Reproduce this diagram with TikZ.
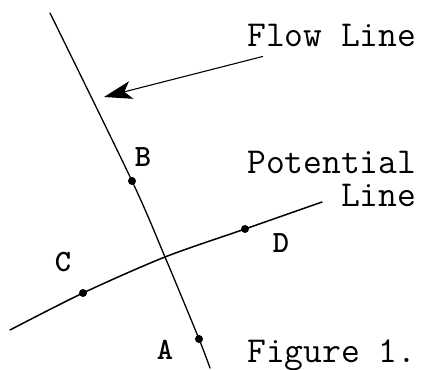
\documentclass[tikz,border=0pt]{standalone}
\usepackage{fontspec}
\usetikzlibrary{arrows.meta}

\begin{document}
\begin{tikzpicture}[
    x=1pt, y=-1pt,
    txt/.style={font=\ttfamily\fontsize{36.5}{39}\selectfont, inner sep=0pt},
    ltr/.style={font=\ttfamily\bfseries\fontsize{31}{33}\selectfont, inner sep=0pt},
    dot/.style={circle, fill=black, inner sep=0pt, minimum size=8pt},
    curve/.style={line width=1.3pt, line cap=round},
    arr/.style={-{Stealth[length=28pt, width=18pt, inset=7pt]}, line width=1.1pt}
]
\useasboundingbox (0,0) rectangle (427,369);

%% POINTS
\coordinate (ftop) at (50,13);
\coordinate (fbot) at (210,368);
\coordinate (ptl) at (10,330);
\coordinate (ptr) at (322,202);
\coordinate (cross) at (165,257);
\node[dot] (B) at (132,181) {};
\node[dot] (A) at (199,339) {};
\node[dot] (C) at (83,293) {};
\node[dot] (D) at (245,229) {};

%% FLOW LINE
\draw[curve] plot[smooth, tension=0.5] coordinates
    {(ftop) (B.center) (cross) (A.center) (fbot)};

%% POTENTIAL LINE
\draw[curve, line width=1.5pt] plot[smooth, tension=0.5] coordinates
    {(ptl) (C.center) (cross) (D.center) (ptr)};

%% LABELS
\node[txt, anchor=base west] (flow) at (247,46) {Flow Line};
\node[txt, anchor=base west] (pot) at (247,173) {Potential};
\node[txt, anchor=base east] (potl) at (pot.base east) [yshift=-33pt] {Line};
\node[txt, anchor=base west] (fig) at (247,362) {Figure 1.};
\node[ltr] (lB) at (143,157) {B};
\node[ltr] (lA) at (165,350) {A};
\node[ltr] (lC) at (63,262) {C};
\node[ltr] (lD) at (281,243) {D};

%% ARROW
\coordinate (tip) at (104,97);
\draw[arr] (flow.south west) ++(16,10) -- (tip);

\end{tikzpicture}
\end{document}
